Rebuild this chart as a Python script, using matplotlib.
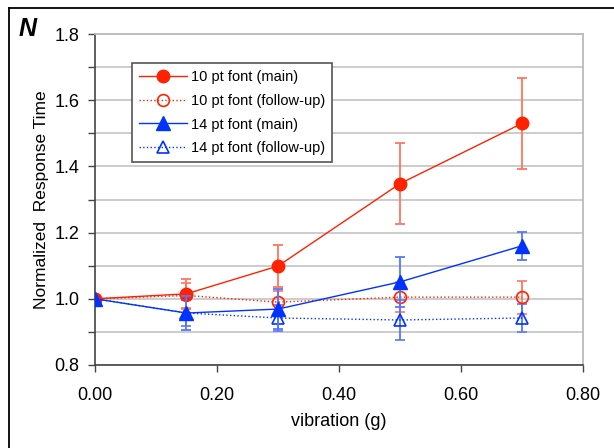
import numpy as np
import matplotlib.pyplot as plt
from matplotlib.lines import Line2D

plt.rcParams['font.family'] = ['Liberation Sans', 'DejaVu Sans']

# Дані
vib = [0.00, 0.15, 0.30, 0.50, 0.70]

f10_main = [1.000, 1.015, 1.099, 1.348, 1.530]
f10_main_err = [0.0, 0.045, 0.063, 0.123, 0.137]

f10_follow = [1.000, 1.010, 0.990, 1.005, 1.005]
f10_follow_err = [0.0, 0.038, 0.035, 0.045, 0.050]

f14_main = [1.000, 0.957, 0.969, 1.051, 1.160]
f14_main_err = [0.0, 0.050, 0.060, 0.075, 0.042]

f14_follow = [1.000, 0.957, 0.942, 0.936, 0.942]
f14_follow_err = [0.0, 0.040, 0.040, 0.060, 0.042]

labels = ['10 pt font (main)', '10 pt font (follow-up)',
          '14 pt font (main)', '14 pt font (follow-up)']

red = '#ff2200'
blue = '#0033ff'

fig = plt.figure(figsize=(6.14, 4.48), dpi=100)
ax = fig.add_axes([0.1547, 0.1853, 0.7948, 0.7387])

ax.set_xlim(0, 0.8)
ax.set_ylim(0.8, 1.8)
ax.set_yticks(np.arange(0.8, 1.81, 0.2))
ax.set_yticks(np.arange(0.8, 1.81, 0.1), minor=True)
ax.set_xticks(np.arange(0, 0.81, 0.2))
ax.set_yticklabels(['%.1f' % v for v in np.arange(0.8, 1.81, 0.2)])
ax.set_xticklabels(['%.2f' % v for v in np.arange(0, 0.81, 0.2)])
ax.yaxis.grid(True, which='both', color='#c8c8c8', lw=1.3)
ax.set_axisbelow(True)

ax.tick_params(axis='both', which='both', direction='out', length=5,
               width=1, labelsize=13, color='#444444')
ax.tick_params(axis='x', pad=11)
ax.tick_params(axis='y', pad=6)
for s in ['left', 'bottom']:
    ax.spines[s].set_color('#444444')
    ax.spines[s].set_linewidth(1.2)
for s in ['top', 'right']:
    ax.spines[s].set_color('#bbbbbb')
    ax.spines[s].set_linewidth(1.3)

ekw = dict(elinewidth=1.3, capsize=3.5, capthick=1.3)

ax.errorbar(vib, f10_main, yerr=f10_main_err, color=red, ls='-', lw=1,
            marker='o', ms=9, ecolor='#ff7560', label=labels[0], zorder=4, **ekw)
ax.errorbar(vib, f10_follow, yerr=f10_follow_err, color=red, ls=':', lw=1,
            marker='o', ms=8.5, mfc='none', mew=1.2, ecolor='#ff7560',
            label=labels[1], zorder=3, **ekw)
ax.errorbar(vib, f14_main, yerr=f14_main_err, color=blue, ls='-', lw=1,
            marker='^', ms=9.5, ecolor='#5577ff', label=labels[2], zorder=5, **ekw)
ax.errorbar(vib, f14_follow, yerr=f14_follow_err, color=blue, ls=':', lw=1,
            marker='^', ms=9, mfc='none', mew=1.2, ecolor='#5577ff',
            label=labels[3], zorder=3, **ekw)

ax.set_xlabel('vibration (g)', fontsize=13, labelpad=6)
ax.set_ylabel('Normalized  Response Time', fontsize=12.5, labelpad=4)

handles, lbls = ax.get_legend_handles_labels()
handles = [h[0] for h in handles]
leg = ax.legend(handles, lbls, loc='upper left', bbox_to_anchor=(0.076, 0.912),
                borderaxespad=0, fontsize=10.5, handlelength=3.3,
                labelspacing=0.68, fancybox=False, framealpha=1,
                edgecolor='#555555', borderpad=0.45, handletextpad=0.3)
leg.get_frame().set_linewidth(1.2)

fig.text(0.030, 0.935, 'N', fontsize=18, fontweight='bold', fontstyle='italic',
         va='center', ha='left')

# рамка навколо рисунка (видно лише ліву та верхню сторони)
x0 = 8.5 / 614
y0 = 1 - 8.5 / 448
fig.add_artist(Line2D([x0, x0], [0, y0], color='black', lw=1.3,
                      transform=fig.transFigure))
fig.add_artist(Line2D([x0, 1], [y0, y0], color='black', lw=1.3,
                      transform=fig.transFigure))

fig.savefig('out.png', dpi=100)
